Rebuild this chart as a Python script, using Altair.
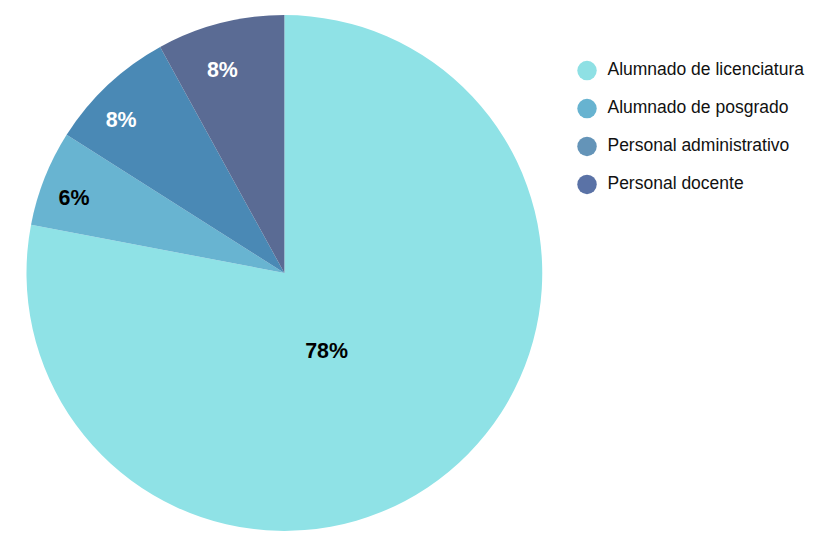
import altair as alt
import pandas as pd

categories = ["Alumnado de licenciatura", "Alumnado de posgrado",
              "Personal administrativo", "Personal docente"]
values = [78, 6, 8, 8]
labels = ["78%", "6%", "8%", "8%"]
slice_colors = ["#8FE2E6", "#68B4D1", "#4A89B5", "#5A6B94"]
legend_colors = ["#8EE0E4", "#67B3D0", "#6494B8", "#5A72A6"]
label_colors = ["#000000", "#000000", "#ffffff", "#ffffff"]

df = pd.DataFrame({
    "category": categories,
    "value": values,
    "label": labels,
    "lcolor": label_colors,
    "order": list(range(len(categories))),
})

theta_scale = alt.Scale(domain=[0, 100])
theta_enc = alt.Theta("value:Q", stack=True, scale=theta_scale)
order_enc = alt.Order("order:Q", sort="ascending")

pie = alt.Chart(df).mark_arc(outerRadius=265).encode(
    theta=theta_enc,
    order=order_enc,
    color=alt.Color(
        "category:N",
        scale=alt.Scale(domain=categories, range=slice_colors),
        legend=None,
    ),
)

legend_layer = alt.Chart(df).mark_arc(outerRadius=0.01).encode(
    theta=theta_enc,
    order=order_enc,
    color=alt.Color(
        "category:N",
        scale=alt.Scale(domain=categories, range=legend_colors),
        legend=alt.Legend(
            title=None,
            orient="none",
            legendX=585,
            legendY=47,
            symbolType="circle",
            symbolSize=400,
            symbolStrokeWidth=0,
            symbolOpacity=1,
            labelFontSize=18,
            labelFont="Liberation Sans",
            labelColor="#111111",
            labelOffset=11,
            rowPadding=19,
            labelLimit=300,
        ),
    ),
)

# per-label style: (radius, dx, dy)
label_style = {0: (90, -14, 11), 1: (226, -6, 6), 2: (226, -13, 8), 3: (216, -10, 1)}

text_layers = []
for k, (rad, ddx, ddy) in label_style.items():
    t = alt.Chart(df).transform_window(
        cum="sum(value)", sort=[alt.SortField("order", order="ascending")]
    ).transform_calculate(
        mid="datum.cum - datum.value / 2"
    ).transform_filter(
        alt.datum.order == k
    ).mark_text(
        fontSize=22, fontWeight="bold", font="Liberation Sans",
        align="center", baseline="middle", radius=rad, dx=ddx, dy=ddy,
    ).encode(
        theta=alt.Theta("mid:Q", stack=None, scale=theta_scale),
        text="label:N",
        color=alt.Color("lcolor:N", scale=None),
    )
    text_layers.append(t)

chart = alt.layer(pie, legend_layer, *text_layers).resolve_scale(
    color="independent"
).properties(
    width=568, height=530, padding=0
).configure_view(stroke=None)

chart.save("out.html", embed_options={"renderer": "svg", "actions": False})
